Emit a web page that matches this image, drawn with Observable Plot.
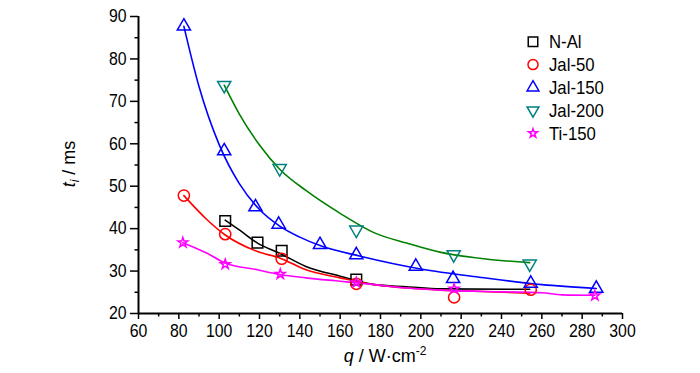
<!DOCTYPE html>
<html>
<head>
<meta charset="utf-8">
<script src="https://cdn.jsdelivr.net/npm/d3@7"></script>
<script src="https://cdn.jsdelivr.net/npm/@observablehq/plot@0.6"></script>
<style>
  html, body { margin: 0; padding: 0; background: #fff; }
  #chart { width: 700px; height: 373px; }
</style>
</head>
<body>
<div id="chart"></div>
<script>
// ---- Series names ----
const seriesNames = ["N-Al", "Jal-50", "Jal-150", "Jal-200", "Ti-150"];

// ---- Measured points (markers) ----
const qNAl   = [103, 119, 131, 168];
const tNAl   = [41.8, 36.7, 34.8, 28.0];
const qJal50 = [82.5, 103, 131, 168, 216.5, 254.5];
const tJal50 = [47.8, 38.7, 32.9, 27.0, 23.8, 25.6];
const qJal150 = [82.5, 102.5, 118, 129.5, 150, 168, 197.5, 216, 254.5, 287];
const tJal150 = [87.7, 58.3, 45.1, 41.0, 36.2, 33.8, 31.1, 28.2, 27.1, 25.9];
const qJal200 = [102.5, 130, 168, 216.3, 254];
const tJal200 = [73.8, 54.2, 39.7, 33.9, 31.7];
const qTi150 = [82, 103, 130.3, 168, 216.5, 286.3];
const tTi150 = [36.7, 31.6, 29.3, 27.3, 25.8, 24.2];

// ---- Fitted curves ----
const fqNAl   = [103, 110, 119, 130, 143, 160, 177, 193, 210, 254];
const ftNAl   = [42, 39.7, 36.6, 34.2, 31.1, 28.8, 26.8, 26.3, 25.8, 25.7];
const fqJal50 = [82.5, 94, 103, 119, 130, 143, 160, 177, 193, 210, 230, 254];
const ftJal50 = [47.8, 42.1, 38.5, 34.6, 33.1, 30.3, 28.4, 26.8, 26.0, 25.5, 25.2, 24.8];
const fqJal150 = [82.5, 90, 100, 110, 120, 130, 140, 150, 170, 200, 230, 260, 287];
const ftJal150 = [87.7, 73.5, 59.8, 50.6, 44.5, 40.6, 38.0, 36.0, 33.5, 30.5, 28.5, 26.8, 25.9];
const fqJal200 = [102.5, 110, 120, 130, 143, 160, 177, 193, 210, 233, 254];
const ftJal200 = [73.8, 67.0, 59.7, 54.0, 49.0, 43.6, 39.0, 36.6, 34.4, 32.8, 32.0];
const fqTi150 = [82, 94, 103, 119, 130, 143, 160, 177, 193, 210, 240, 260, 270, 286.3];
const ftTi150 = [36.7, 34.2, 31.9, 30.3, 29.2, 28.4, 27.6, 26.8, 26.0, 25.5, 25.1, 24.9, 24.4, 24.3];

// ---- Axis ticks ----
const xMajor = [60, 80, 100, 120, 140, 160, 180, 200, 220, 240, 260, 280, 300];
const xMinor = [70, 90, 110, 130, 150, 170, 190, 210, 230, 250, 270, 290];
const yMajor = [20, 30, 40, 50, 60, 70, 80, 90];
const yMinor = [25, 35, 45, 55, 65, 75, 85];

// ---- Styles ----
const markerColors = ["#000000", "#ff0000", "#0000ff", "#008080", "#ff00ff"];
const lineColors   = ["#000000", "#ff0000", "#0000ff", "#008000", "#ff00ff"];

function triangle(dir) {
  return {
    draw(ctx, size) {
      const R = Math.sqrt(size * 4 / (3 * Math.sqrt(3)));
      const h = R * Math.sqrt(3) / 2;
      ctx.moveTo(0, -dir * R);
      ctx.lineTo(h, dir * R / 2);
      ctx.lineTo(-h, dir * R / 2);
      ctx.closePath();
    }
  };
}
const triUp = triangle(1), triDown = triangle(-1);
const symbols = [d3.symbolSquare, d3.symbolCircle, triUp, triDown, d3.symbolStar];
const radii = [6.0, 5.6, 4.9, 4.9, 3.1];

const pts = [[qNAl, tNAl], [qJal50, tJal50], [qJal150, tJal150], [qJal200, tJal200], [qTi150, tTi150]];
const fits = [[fqNAl, ftNAl], [fqJal50, ftJal50], [fqJal150, ftJal150], [fqJal200, ftJal200], [fqTi150, ftTi150]];

const toRows = (qs, ts) => qs.map((q, i) => ({q, t: ts[i]}));

const font = "'Liberation Sans', Arial, sans-serif";

const marks = [];
fits.forEach(([qs, ts], i) => {
  marks.push(Plot.line(toRows(qs, ts), {x: "q", y: "t", stroke: lineColors[i], strokeWidth: 1.6, curve: "monotone-x"}));
});
pts.forEach(([qs, ts], i) => {
  marks.push(Plot.dot(toRows(qs, ts), {x: "q", y: "t", symbol: symbols[i], r: radii[i], stroke: markerColors[i], strokeWidth: 1.5, fill: "none"}));
});

const plot = Plot.plot({
  width: 700,
  height: 373,
  marginLeft: 138,
  marginRight: 78,
  marginTop: 16,
  marginBottom: 60,
  style: {fontFamily: font, background: "#fff", color: "#000"},
  x: {domain: [60, 300]},
  y: {domain: [20, 90]},
  marks: [
    ...marks,
    Plot.axisX(xMajor, {tickSize: 6, tickPadding: 5, fontSize: 18, strokeWidth: 1.5, label: null}),
    Plot.axisX(xMinor, {tickSize: 3.5, tickFormat: () => "", strokeWidth: 1.5, label: null}),
    Plot.axisY(yMajor, {tickSize: 8, tickPadding: 4, fontSize: 18, strokeWidth: 1.5, label: null}),
    Plot.axisY(yMinor, {tickSize: 3.5, tickFormat: () => "", strokeWidth: 1.5, label: null}),
    Plot.ruleX([60], {strokeWidth: 2}),
    Plot.ruleY([20], {strokeWidth: 2})
  ]
});

document.getElementById("chart").appendChild(plot);

const svg = d3.select(plot);

// Narrow the tick labels horizontally around their anchors
function squeeze(sel, s) {
  sel.each(function () {
    const el = d3.select(this);
    const tr = el.attr("transform") || "";
    const m = /translate\(\s*([-\d.e]+)[ ,]+([-\d.e]+)\s*\)/.exec(tr);
    const ax = (m ? +m[1] : 0) + (+el.attr("x") || 0);
    el.attr("transform", `translate(${ax},0) scale(${s},1) translate(${-ax},0) ${tr}`);
  });
}
squeeze(svg.selectAll('g[aria-label$="tick label"] text'), 0.88);

// ---- Axis titles ----
const yl = svg.append("text")
  .attr("transform", "translate(75,164) rotate(-90)")
  .attr("text-anchor", "middle")
  .style("font-family", font).style("font-size", "18px").attr("fill", "#000");
yl.append("tspan").style("font-style", "italic").text("t");
yl.append("tspan").style("font-style", "italic").style("font-size", "12px").attr("dy", "4").text("i");
yl.append("tspan").attr("dy", "-4").text(" / ms");

const xl = svg.append("text")
  .attr("x", 385).attr("y", 362)
  .attr("text-anchor", "middle")
  .style("font-family", font).style("font-size", "18px").attr("fill", "#000");
xl.append("tspan").style("font-style", "italic").text("q");
xl.append("tspan").text(" / W\u00b7cm");
xl.append("tspan").style("font-size", "12px").attr("dy", "-7").text("-2");

// ---- Legend ----
const lg = svg.append("g");
seriesNames.forEach((name, i) => {
  const cy = 41.7 + i * 22.9;
  lg.append("path")
    .attr("transform", `translate(533,${cy})`)
    .attr("d", d3.symbol(symbols[i], Math.PI * radii[i] * radii[i] * 0.8)())
    .attr("fill", "none").attr("stroke", markerColors[i]).attr("stroke-width", 1.5);
  lg.append("text")
    .attr("x", 549).attr("y", cy).attr("dy", "0.36em")
    .attr("text-anchor", "start")
    .attr("transform", "translate(549,0) scale(0.93,1) translate(-549,0)")
    .style("font-family", font).style("font-size", "18px").attr("fill", "#000")
    .text(name);
});
</script>
</body>
</html>
